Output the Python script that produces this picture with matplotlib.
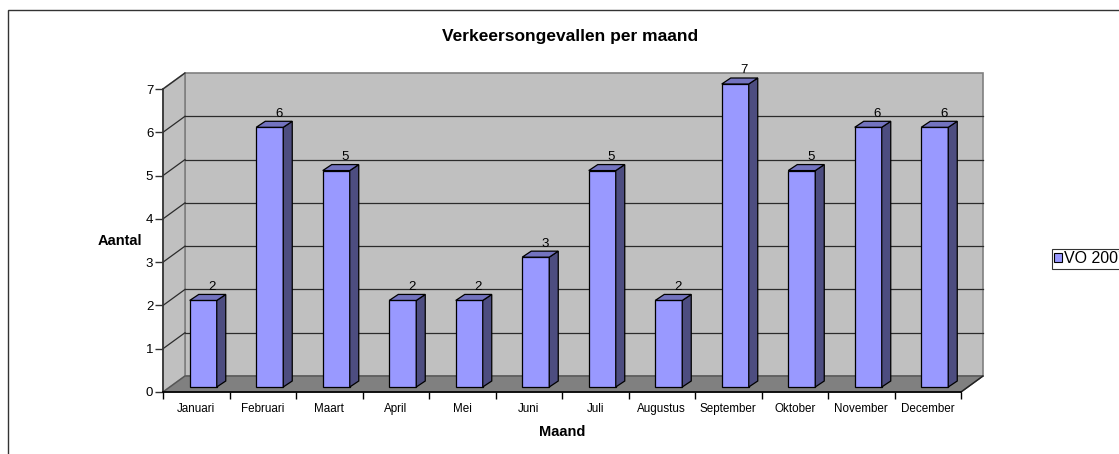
import matplotlib
matplotlib.use("Agg")
import matplotlib.pyplot as plt
from matplotlib.patches import Polygon, Rectangle, Patch

plt.rcParams['font.family'] = ['Liberation Sans', 'DejaVu Sans']

months = ["Januari", "Februari", "Maart", "April", "Mei", "Juni", "Juli",
          "Augustus", "September", "Oktober", "November", "December"]
counts = [2, 6, 5, 2, 2, 3, 5, 2, 7, 5, 6, 6]
series_name = "VO 2007"
y_ticks = [0, 1, 2, 3, 4, 5, 6, 7]

W, H = 1119, 454
fig = plt.figure(figsize=(W / 100, H / 100), dpi=100)
fig.patch.set_facecolor("white")

# chart frame (runs off the right/bottom edge like the original)
fig.patches.append(Rectangle((8 / W, -0.2), 1.5, 1.2 - 10 / H, transform=fig.transFigure,
                             fill=False, edgecolor="#333333", lw=1.0))

# front plane of the 3d plot
ax = fig.add_axes([163 / W, 1 - 392 / H, (961 - 163) / W, (392 - 89) / H])
n = len(months)
ymax = y_ticks[-1]
ax.set_xlim(0, n)
ax.set_ylim(0, ymax)
ax.patch.set_visible(False)

# depth offsets (data units)
dx, dy = 22 / 66.5, 16 / 43.3
bx, by = 7 / 66.5, 5 / 43.3
ddx, ddy = 9 / 66.5, 6 / 43.3
bw = 27 / 66.5

wall = "#C0C0C0"
edge = "#808080"
grid = "#2b2b2b"

# back wall
ax.add_patch(Polygon([(dx, dy), (n + dx, dy), (n + dx, ymax + dy), (dx, ymax + dy)],
                     closed=True, facecolor=wall, edgecolor=edge, lw=1.2, zorder=0.5, clip_on=False))
# side wall
ax.add_patch(Polygon([(0, 0), (dx, dy), (dx, ymax + dy), (0, ymax)],
                     closed=True, facecolor=wall, edgecolor=edge, lw=1.2, zorder=0.5, clip_on=False))
# floor
ax.add_patch(Polygon([(0, 0), (n, 0), (n + dx, dy), (dx, dy)],
                     closed=True, facecolor="#808080", edgecolor="#555555", lw=1.0, zorder=0.6, clip_on=False))
ax.plot([n, n + dx], [0, dy], color="#222222", lw=1.0, zorder=0.7, clip_on=False)

# gridlines on back and side wall
for v in y_ticks[1:-1]:
    ax.plot([dx, n + dx], [v + dy, v + dy], color=grid, lw=0.9, zorder=0.8, clip_on=False)
for v in y_ticks[1:]:
    ax.plot([0, dx], [v, v + dy], color=grid, lw=0.9, zorder=0.8, clip_on=False)

# bars
for i, v in enumerate(counts):
    x0 = i + 0.5 - bw / 2 + bx
    ax.add_patch(Rectangle((x0, by), bw, v, facecolor="#9999FF", edgecolor="black",
                           lw=0.9, zorder=2, clip_on=False))
    ax.add_patch(Polygon([(x0 + bw, by), (x0 + bw + ddx, by + ddy),
                          (x0 + bw + ddx, v + by + ddy), (x0 + bw, v + by)],
                         closed=True, facecolor="#4D4D80", edgecolor="black", lw=0.9,
                         zorder=2, clip_on=False))
    ax.add_patch(Polygon([(x0, v + by), (x0 + ddx, v + by + ddy),
                          (x0 + bw + ddx, v + by + ddy), (x0 + bw, v + by)],
                         closed=True, facecolor="#7373BF", edgecolor="black", lw=0.9,
                         zorder=2, clip_on=False))
    ax.text(i + 0.5 + 0.24, v + 0.36, str(v), ha="center", va="baseline",
            fontsize=9.5, zorder=3, clip_on=False)

# axes and ticks
for s in ["top", "right"]:
    ax.spines[s].set_visible(False)
ax.spines["left"].set_color("#333333")
ax.spines["left"].set_linewidth(1.2)
ax.spines["bottom"].set_color("black")
ax.spines["bottom"].set_linewidth(1.2)

ax.set_yticks(y_ticks)
ax.set_yticklabels([str(t) for t in y_ticks], fontsize=9.5)
ax.tick_params(axis="y", direction="out", length=6, width=1, color="#333333", pad=1)

ax.set_xticks(range(n + 1))
ax.set_xticklabels([""] * (n + 1))
ax.tick_params(axis="x", which="major", direction="out", length=5, width=1, color="black")
ax.set_xticks([i + 0.5 for i in range(n)], minor=True)
ax.set_xticklabels(months, minor=True, fontsize=8.4)
ax.tick_params(axis="x", which="minor", length=0, pad=8)

fig.text(570 / W, 1 - 36 / H, "Verkeersongevallen per maand", ha="center", va="center",
         fontsize=12.5, fontweight="bold")
fig.text(120 / W, 1 - 241 / H, "Aantal", ha="center", va="center", fontsize=10.5, fontweight="bold")
fig.text(562 / W, 1 - 432 / H, "Maand", ha="center", va="center", fontsize=10.5, fontweight="bold")

leg = fig.legend(handles=[Patch(facecolor="#9999FF", edgecolor="black", lw=0.8, label=series_name)],
                 loc="upper left", bbox_to_anchor=(1052 / W, 1 - 249 / H), fontsize=11.5,
                 frameon=True, fancybox=False, borderpad=0.15, handlelength=0.45,
                 handleheight=0.45, handletextpad=0.15, borderaxespad=0)
leg.get_frame().set_edgecolor("black")
leg.get_frame().set_linewidth(0.8)

fig.savefig("out.png", dpi=100)
